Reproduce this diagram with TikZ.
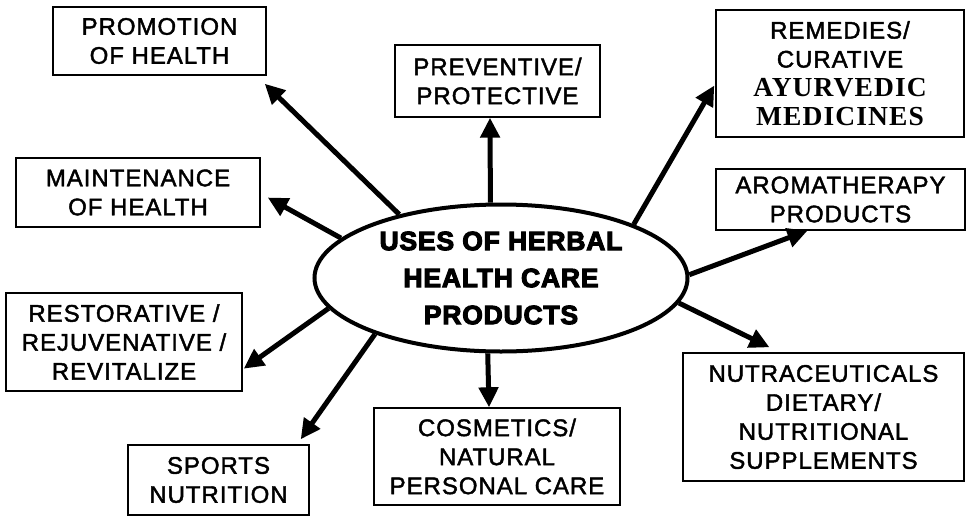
\documentclass[tikz,border=0pt]{standalone}
\usepackage{fontspec}
\setmainfont{Liberation Sans}
\newfontfamily\boxfont{Liberation Sans}[LetterSpace=4, FakeBold=1.8]
\newfontfamily\serfont{Liberation Serif}[LetterSpace=4]
\newfontfamily\blackfont{Liberation Sans}[UprightFont={* Bold}, UprightFeatures={FakeBold=4}, LetterSpace=3]
\usetikzlibrary{shapes.geometric,arrows.meta,calc}
\begin{document}
\begin{tikzpicture}[x=1pt,y=-1pt,
  box/.style={draw, line width=1.4pt, inner sep=0pt, align=center,
    font=\boxfont\fontsize{24}{29}\selectfont},
  arr/.style={line width=5pt, -{Triangle[length=20pt,width=19pt]}},
  hub/.style={ellipse, draw, line width=4pt, inner sep=0pt, align=center,
    minimum width=373pt, minimum height=147pt,
    font=\blackfont\fontsize{26.5}{37}\selectfont}]
\useasboundingbox (0,0) rectangle (967,517);

\node[hub] (c) at (501,278) {USES OF HERBAL\\HEALTH CARE\\PRODUCTS};

\node[box, minimum width=213pt, minimum height=68pt] (prom) at (159.5,41) {PROMOTION\\OF HEALTH};
\node[box, minimum width=244pt, minimum height=69pt] (mai) at (138,192.5) {MAINTENANCE\\OF HEALTH};
\node[box, minimum width=205pt, minimum height=72pt] (prev) at (497.5,81) {PREVENTIVE/\\PROTECTIVE};
\node[box, minimum width=248pt, minimum height=127pt] (rem) at (840,73.5)
  {REMEDIES/\\CURATIVE\\{\serfont\bfseries\fontsize{27.5}{29}\selectfont AYURVEDIC}\\{\serfont\bfseries\fontsize{27.5}{29}\selectfont MEDICINES}};
\node[box, minimum width=249pt, minimum height=61pt] (aro) at (840.5,199.5) {AROMATHERAPY\\PRODUCTS};
\node[box, minimum width=236pt, minimum height=98pt] (res) at (124,342) {RESTORATIVE /\\REJUVENATIVE /\\REVITALIZE};
\node[box, minimum width=181pt, minimum height=70pt] (spo) at (218.5,480) {SPORTS\\NUTRITION};
\node[box, minimum width=246pt, minimum height=97pt] (cos) at (497,456.5) {COSMETICS/\\NATURAL\\PERSONAL CARE};
\node[box, minimum width=281pt, minimum height=128pt] (nut) at (823.5,417) {NUTRACEUTICALS\\DIETARY/\\NUTRITIONAL\\SUPPLEMENTS};

\draw[arr] (c.148) -- ($(prom.south east)+(-2,8)$);
\draw[arr] (c.98) -- ($(prev.south)+(-7.5,0)$);
\draw[arr] (c.22) -- ($(rem.west)+(-1,12)$);
\draw[arr] (c.1) -- ($(aro.south)+(-33,0)$);
\draw[arr] (c.-8) -- ($(nut.north)+(-54,-5)$);
\draw[arr] (c.-100) -- ($(cos.north)+(-8,0)$);
\draw[arr] (c.204) -- ($(spo.north east)+(-9,-5)$);
\draw[arr] (c.190) -- ($(res.south east)+(1,-23)$);
\draw[arr] (c.166) -- ($(mai.east)+(7,5)$);
\end{tikzpicture}
\end{document}
